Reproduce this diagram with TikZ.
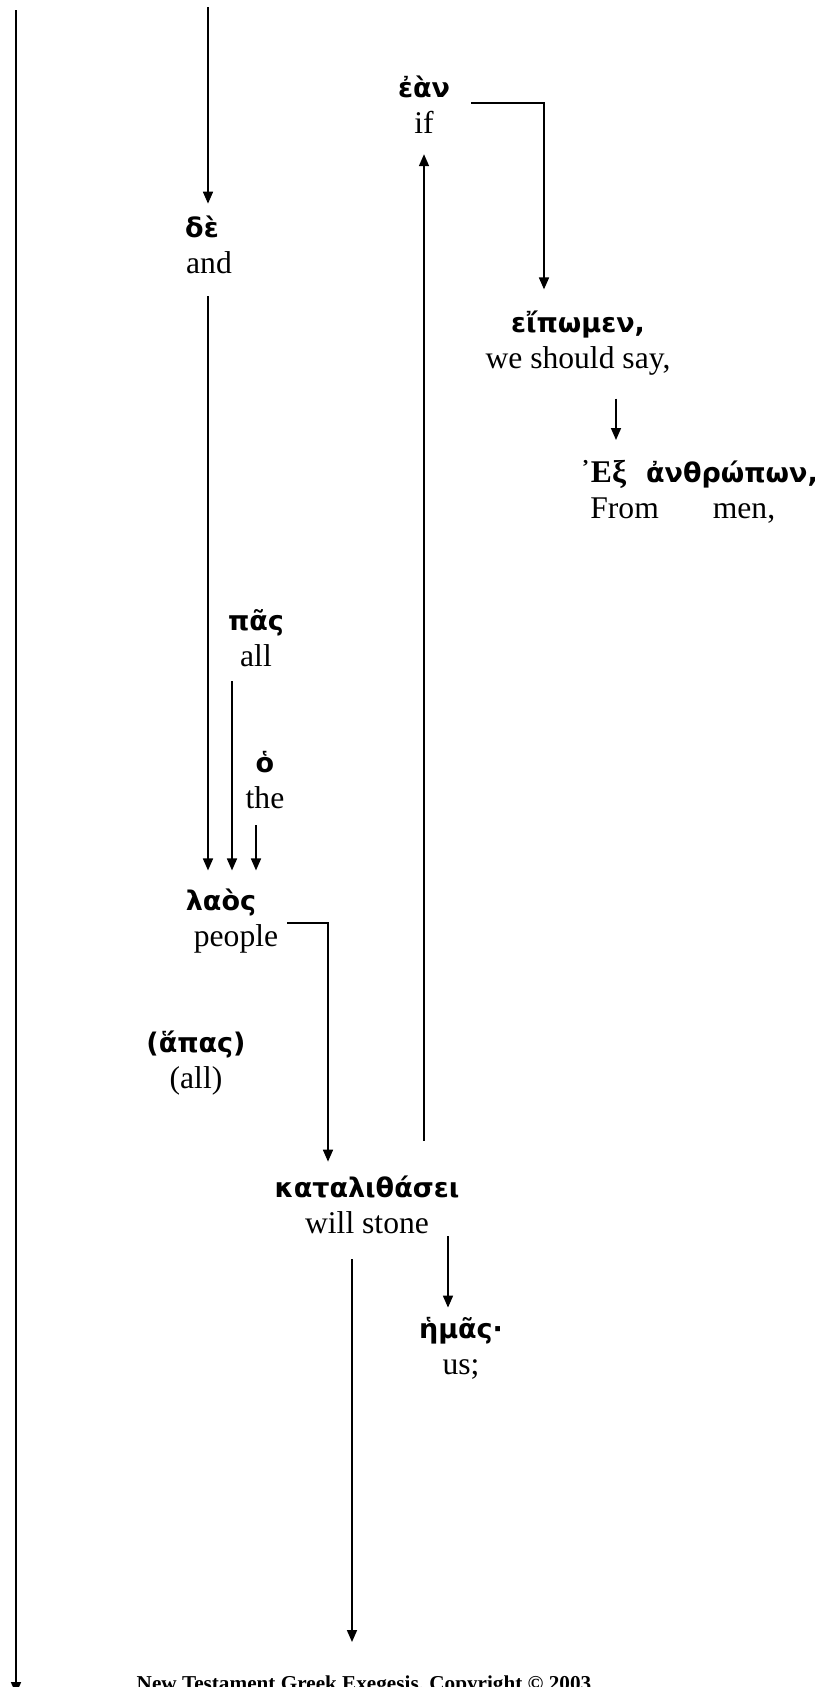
\documentclass[tikz,border=0pt]{standalone}
\usepackage{fontspec}
\setmainfont{Liberation Serif}
\newfontfamily\greekfont{DejaVu Sans}
\usetikzlibrary{arrows.meta, calc}

\newcommand{\grk}[1]{{\greekfont\bfseries\fontsize{13.5}{18}\selectfont #1}}

\begin{document}
\begin{tikzpicture}[x=0.5pt, y=-0.5pt]

\tikzset{word/.style = {align=center, inner sep=0pt, font=\fontsize{15.8}{18}\selectfont}}
\tikzset{edge/.style = {->, > = {Triangle[length=6pt, width=5pt]}, line width=0.85pt}}

\path[use as bounding box, fill=white] (0,0) rectangle (822,1687);

% words
\node[word] (ean) at (424,105) {\grk{ἐὰν}\\if};
\node[word] (de) at (209,245) {\grk{δὲ}\hspace*{7pt}\\and};
\node[word] (eipomen) at (578,343) {\grk{εἴπωμεν,}\\we should say,};
\node[word, align=left, anchor=north west] (ex) at (580,460)
  {{\bfseries ᾿Εξ}\hspace{10pt}\grk{ἀνθρώπων,}\\\hspace*{5pt}From\hspace{27pt}men,};
\node[word] (pas) at (256,638) {\grk{πᾶς}\\all};
\node[word] (ho) at (265,780) {\grk{ὁ}\\the};
\node[word] (laos) at (236,921) {\grk{λαὸς}\hspace*{15pt}\\people};
\node[word] (hapas) at (196,1063) {\grk{(ἅπας)}\\(all)};
\node[word] (kata) at (367,1205) {\grk{καταλιθάσει}\\will stone};
\node[word] (hemas) at (461,1348) {\grk{ἡμᾶς·}\\us;};
\node[font=\fontsize{10.6}{12}\selectfont\bfseries, anchor=base] (foot) at (364,1690)
  {New Testament Greek Exegesis, Copyright © 2003};

% loose ends
\coordinate (topL) at (16,10);
\coordinate (botL) at (16,1694);
\coordinate (topD) at (208,7);
\coordinate (endK) at (352,1642);

% links
\draw[edge] (topL) -- (botL);
\draw[edge] (topD) -- ($(de.north)+(-1,-12)$);
\draw[edge] ($(ean.east)+(21,-2)$) -| ($(eipomen.north)+(-34,-21)$);
\draw[edge] ($(eipomen.south)+(38,23)$) -- ($(ex.north west)+(36,-20)$);
\draw[edge] ($(kata.north)+(57,-35)$) -- ($(ean.south)+(0,20)$);
\draw[edge] ($(de.south)+(-1,22)$) -- ($(laos.north)+(-28,-18)$);
\draw[edge] ($(pas.south)+(-24,14)$) -- ($(laos.north)+(-4,-18)$);
\draw[edge] ($(ho.south)+(-9,16)$) -- ($(laos.north)+(20,-18)$);
\draw[edge] ($(laos.east)+(1,2)$) -| ($(kata.north)+(-39,-14)$);
\draw[edge] ($(kata.south)+(81,2)$) -- ($(hemas.north)+(-13,-9)$);
\draw[edge] ($(kata.south)+(-15,25)$) -- (endK);
\end{tikzpicture}
\end{document}
